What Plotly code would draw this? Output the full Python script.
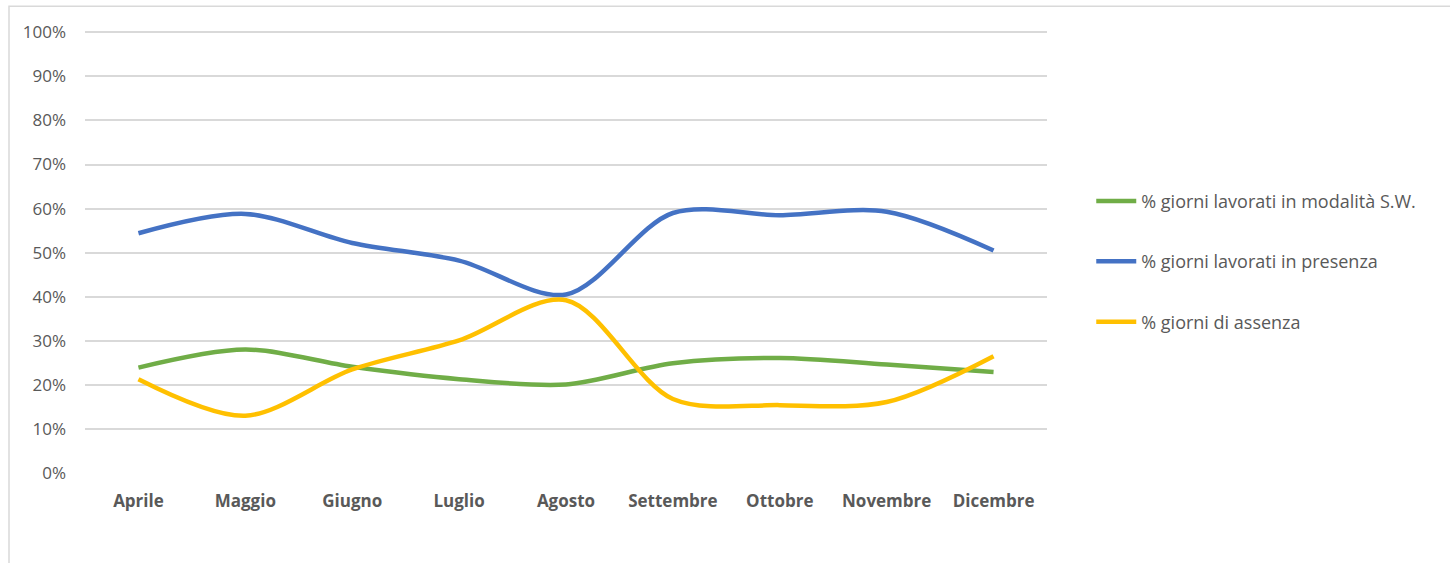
import plotly.graph_objects as go

mesi = ["Aprile", "Maggio", "Giugno", "Luglio", "Agosto",
        "Settembre", "Ottobre", "Novembre", "Dicembre"]

smart_working = [0.239, 0.280, 0.241, 0.213, 0.201, 0.249, 0.261, 0.246, 0.229]
presenza = [0.544, 0.588, 0.522, 0.482, 0.405, 0.590, 0.585, 0.593, 0.505]
assenza = [0.213, 0.130, 0.235, 0.301, 0.392, 0.168, 0.154, 0.161, 0.265]

nomi = ["% giorni lavorati in modalità S.W.",
        "% giorni lavorati in presenza",
        "% giorni di assenza"]
colori = ["#70AD47", "#4472C4", "#FFC000"]

grey = "#595959"
font_family = "'Open Sans', Lato, sans-serif"

fig = go.Figure()
for i, serie in enumerate([smart_working, presenza, assenza]):
    fig.add_trace(go.Scatter(
        x=mesi, y=serie, name=nomi[i], mode="lines",
        line=dict(color=colori[i], width=4.5, shape="spline", smoothing=0.9),
        legendgroup="g%d" % i,
    ))

fig.update_layout(
    width=1450, height=563,
    margin=dict(l=85, r=403, t=31, b=90),
    paper_bgcolor="white", plot_bgcolor="white",
    font=dict(family=font_family, color=grey),
    showlegend=True,
    legend=dict(
        x=1.046, y=0.478, xanchor="left", yanchor="middle",
        font=dict(size=18, color=grey),
        traceorder="grouped", tracegroupgap=34,
        itemwidth=40,
    ),
    xaxis=dict(
        range=[-0.5, 8.5],
        showgrid=False, zeroline=False, showline=False,
        tickfont=dict(size=17, color=grey, weight="bold"),
        ticks="", ticklabelstandoff=16,
    ),
    yaxis=dict(
        range=[0, 1.003], dtick=0.1, tickformat=".0%",
        showgrid=True, gridcolor="#d9d9d9", gridwidth=1.5,
        zeroline=False, showline=False,
        tickfont=dict(size=17, color=grey), ticks="",
        ticklabelstandoff=18,
    ),
    shapes=[dict(
        type="rect", xref="paper", yref="paper",
        x0=-0.079, x1=1.43, y0=-0.23, y1=1.056,
        line=dict(color="#d9d9d9", width=1.5), layer="below",
    )],
)

# drop the default 8px body margin so the figure sits at the window corner
fig.write_html("out.html", config={"displayModeBar": False},
               post_script="document.body.style.margin='0';")
